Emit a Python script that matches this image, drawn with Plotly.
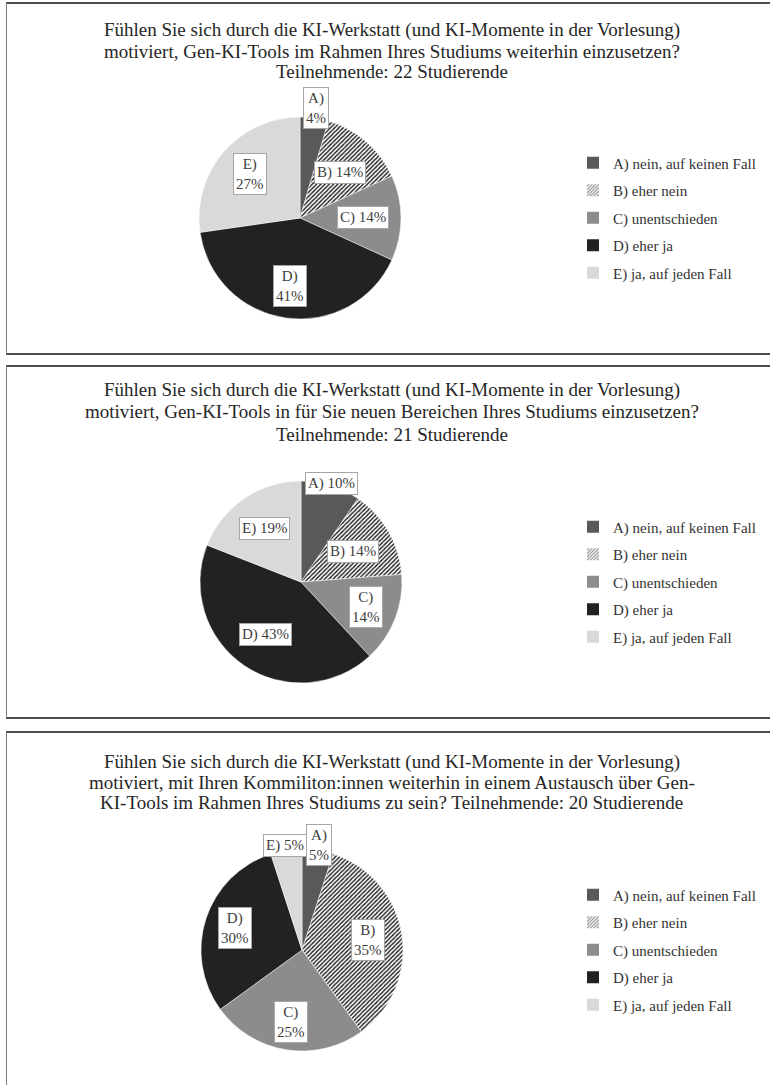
import math
import plotly.graph_objects as go

W, H = 770, 1085

categories = ["A) nein, auf keinen Fall", "B) eher nein", "C) unentschieden",
              "D) eher ja", "E) ja, auf jeden Fall"]

# counts of respondents per answer
p1_counts = [1, 3, 3, 9, 6]    # 22 Studierende
p2_counts = [2, 3, 3, 9, 4]    # 21 Studierende
p3_counts = [1, 7, 5, 6, 1]    # 20 Studierende

p1_labels = ["A)<br>4%", "B) 14%", "C) 14%", "D)<br>41%", "E)<br>27%"]
p2_labels = ["A) 10%", "B) 14%", "C)<br>14%", "D) 43%", "E) 19%"]
p3_labels = ["A)<br>5%", "B)<br>35%", "C)<br>25%", "D)<br>30%", "E) 5%"]

title_lines = [
    ["Fühlen Sie sich durch die KI-Werkstatt (und KI-Momente in der Vorlesung)",
     "motiviert, Gen-KI-Tools im Rahmen Ihres Studiums weiterhin einzusetzen?",
     "Teilnehmende: 22 Studierende"],
    ["Fühlen Sie sich durch die KI-Werkstatt (und KI-Momente in der Vorlesung)",
     "motiviert, Gen-KI-Tools in für Sie neuen Bereichen Ihres Studiums einzusetzen?",
     "Teilnehmende: 21 Studierende"],
    ["Fühlen Sie sich durch die KI-Werkstatt (und KI-Momente in der Vorlesung)",
     "motiviert, mit Ihren Kommiliton:innen weiterhin in einem Austausch über Gen-",
     "KI-Tools im Rahmen Ihres Studiums zu sein? Teilnehmende: 20 Studierende"],
]

# ---- styling / layout (pixels) ----
colors = ["#595959", "#ffffff", "#8c8c8c", "#222222", "#d9d9d9"]
shapes_pat = ["", "/", "", "", ""]
FONT = "Liberation Serif, Times New Roman, serif"
panels = [
    dict(top=3, bottom=354, cx=300, cy=218, ty=[30, 51, 72], counts=p1_counts,
         labels=p1_labels, rf=[1.1, 0.6, 0.62, 0.68, 0.66]),
    dict(top=366, bottom=718, cx=301, cy=582, ty=[390, 412, 434], counts=p2_counts,
         labels=p2_labels, rf=[1.02, 0.6, 0.69, 0.63, 0.64]),
    dict(top=732, bottom=1100, cx=302, cy=950, ty=[762, 782, 802], counts=p3_counts,
         labels=p3_labels, rf=[1.05, 0.66, 0.72, 0.7, 1.05]),
]
R = 101
pattern = dict(shape=shapes_pat, fgcolor="#1a1a1a", bgcolor="white", size=3, solidity=0.45)

fig = go.Figure()
shapes, annotations = [], []
legend_names = ["legend", "legend2", "legend3"]
layout_legends = {}

for i, p in enumerate(panels):
    cx, cy = p["cx"], p["cy"]
    fig.add_trace(go.Pie(
        labels=categories, values=p["counts"], sort=False, direction="clockwise",
        rotation=0, textinfo="none", hoverinfo="label+percent",
        marker=dict(colors=colors, line=dict(color="white", width=0.5), pattern=pattern),
        domain=dict(x=[(cx - R) / W, (cx + R) / W],
                    y=[1 - (cy + R) / H, 1 - (cy - R) / H]),
        showlegend=False,
    ))
    # legend entries (one empty bar trace per category so that the legend can be spaced)
    for k, cat in enumerate(categories):
        fig.add_trace(go.Bar(
            x=[None], y=[None], name=cat, legend=legend_names[i],
            legendgroup=f"p{i}_{k}", showlegend=True,
            marker=dict(color=colors[k], line=dict(width=0),
                        pattern=dict(shape=shapes_pat[k], fgcolor="#1a1a1a",
                                     bgcolor="white", size=3, solidity=0.45)),
        ))
    # label boxes placed along slice mid-angles
    total = sum(p["counts"])
    cum = 0
    for v, txt, f in zip(p["counts"], p["labels"], p["rf"]):
        mid = (cum + v / 2) / total * 2 * math.pi
        cum += v
        x = cx + f * R * math.sin(mid)
        y = cy - f * R * math.cos(mid)
        annotations.append(dict(
            x=x / W, y=1 - y / H, xref="paper", yref="paper", text=txt,
            showarrow=False, xanchor="center", yanchor="middle",
            font=dict(family=FONT, size=15, color="#404040"),
            bgcolor="white", bordercolor="#a6a6a6", borderwidth=1, borderpad=2,
        ))
    # title lines
    for line, ty in zip(title_lines[i], p["ty"]):
        annotations.append(dict(
            x=392 / W, y=1 - ty / H, xref="paper", yref="paper", text=line,
            showarrow=False, xanchor="center", yanchor="middle",
            font=dict(family=FONT, size=19, color="#262626"),
        ))
    # panel frame
    for yy in (p["top"], p["bottom"]):
        shapes.append(dict(type="line", xref="paper", yref="paper",
                           x0=6 / W, x1=1.05, y0=1 - yy / H, y1=1 - yy / H,
                           line=dict(color="#4d4d4d", width=2)))
    shapes.append(dict(type="line", xref="paper", yref="paper",
                       x0=6.5 / W, x1=6.5 / W, y0=1 - p["top"] / H, y1=1 - p["bottom"] / H,
                       line=dict(color="#7f7f7f", width=1)))
    layout_legends[legend_names[i]] = dict(
        x=573 / W, y=1 - cy / H, xanchor="left", yanchor="middle",
        font=dict(family=FONT, size=15, color="#333333"),
        bgcolor="rgba(0,0,0,0)", traceorder="grouped", tracegroupgap=5,
    )

fig.update_layout(
    width=W, height=H, margin=dict(l=0, r=0, t=0, b=0, autoexpand=False),
    paper_bgcolor="white", plot_bgcolor="white",
    xaxis=dict(visible=False), yaxis=dict(visible=False),
    shapes=shapes, annotations=annotations,
    **layout_legends,
)
fig.write_html("out.html", config={"displayModeBar": False},
               post_script="document.body.style.margin='0';document.body.style.padding='0';")
